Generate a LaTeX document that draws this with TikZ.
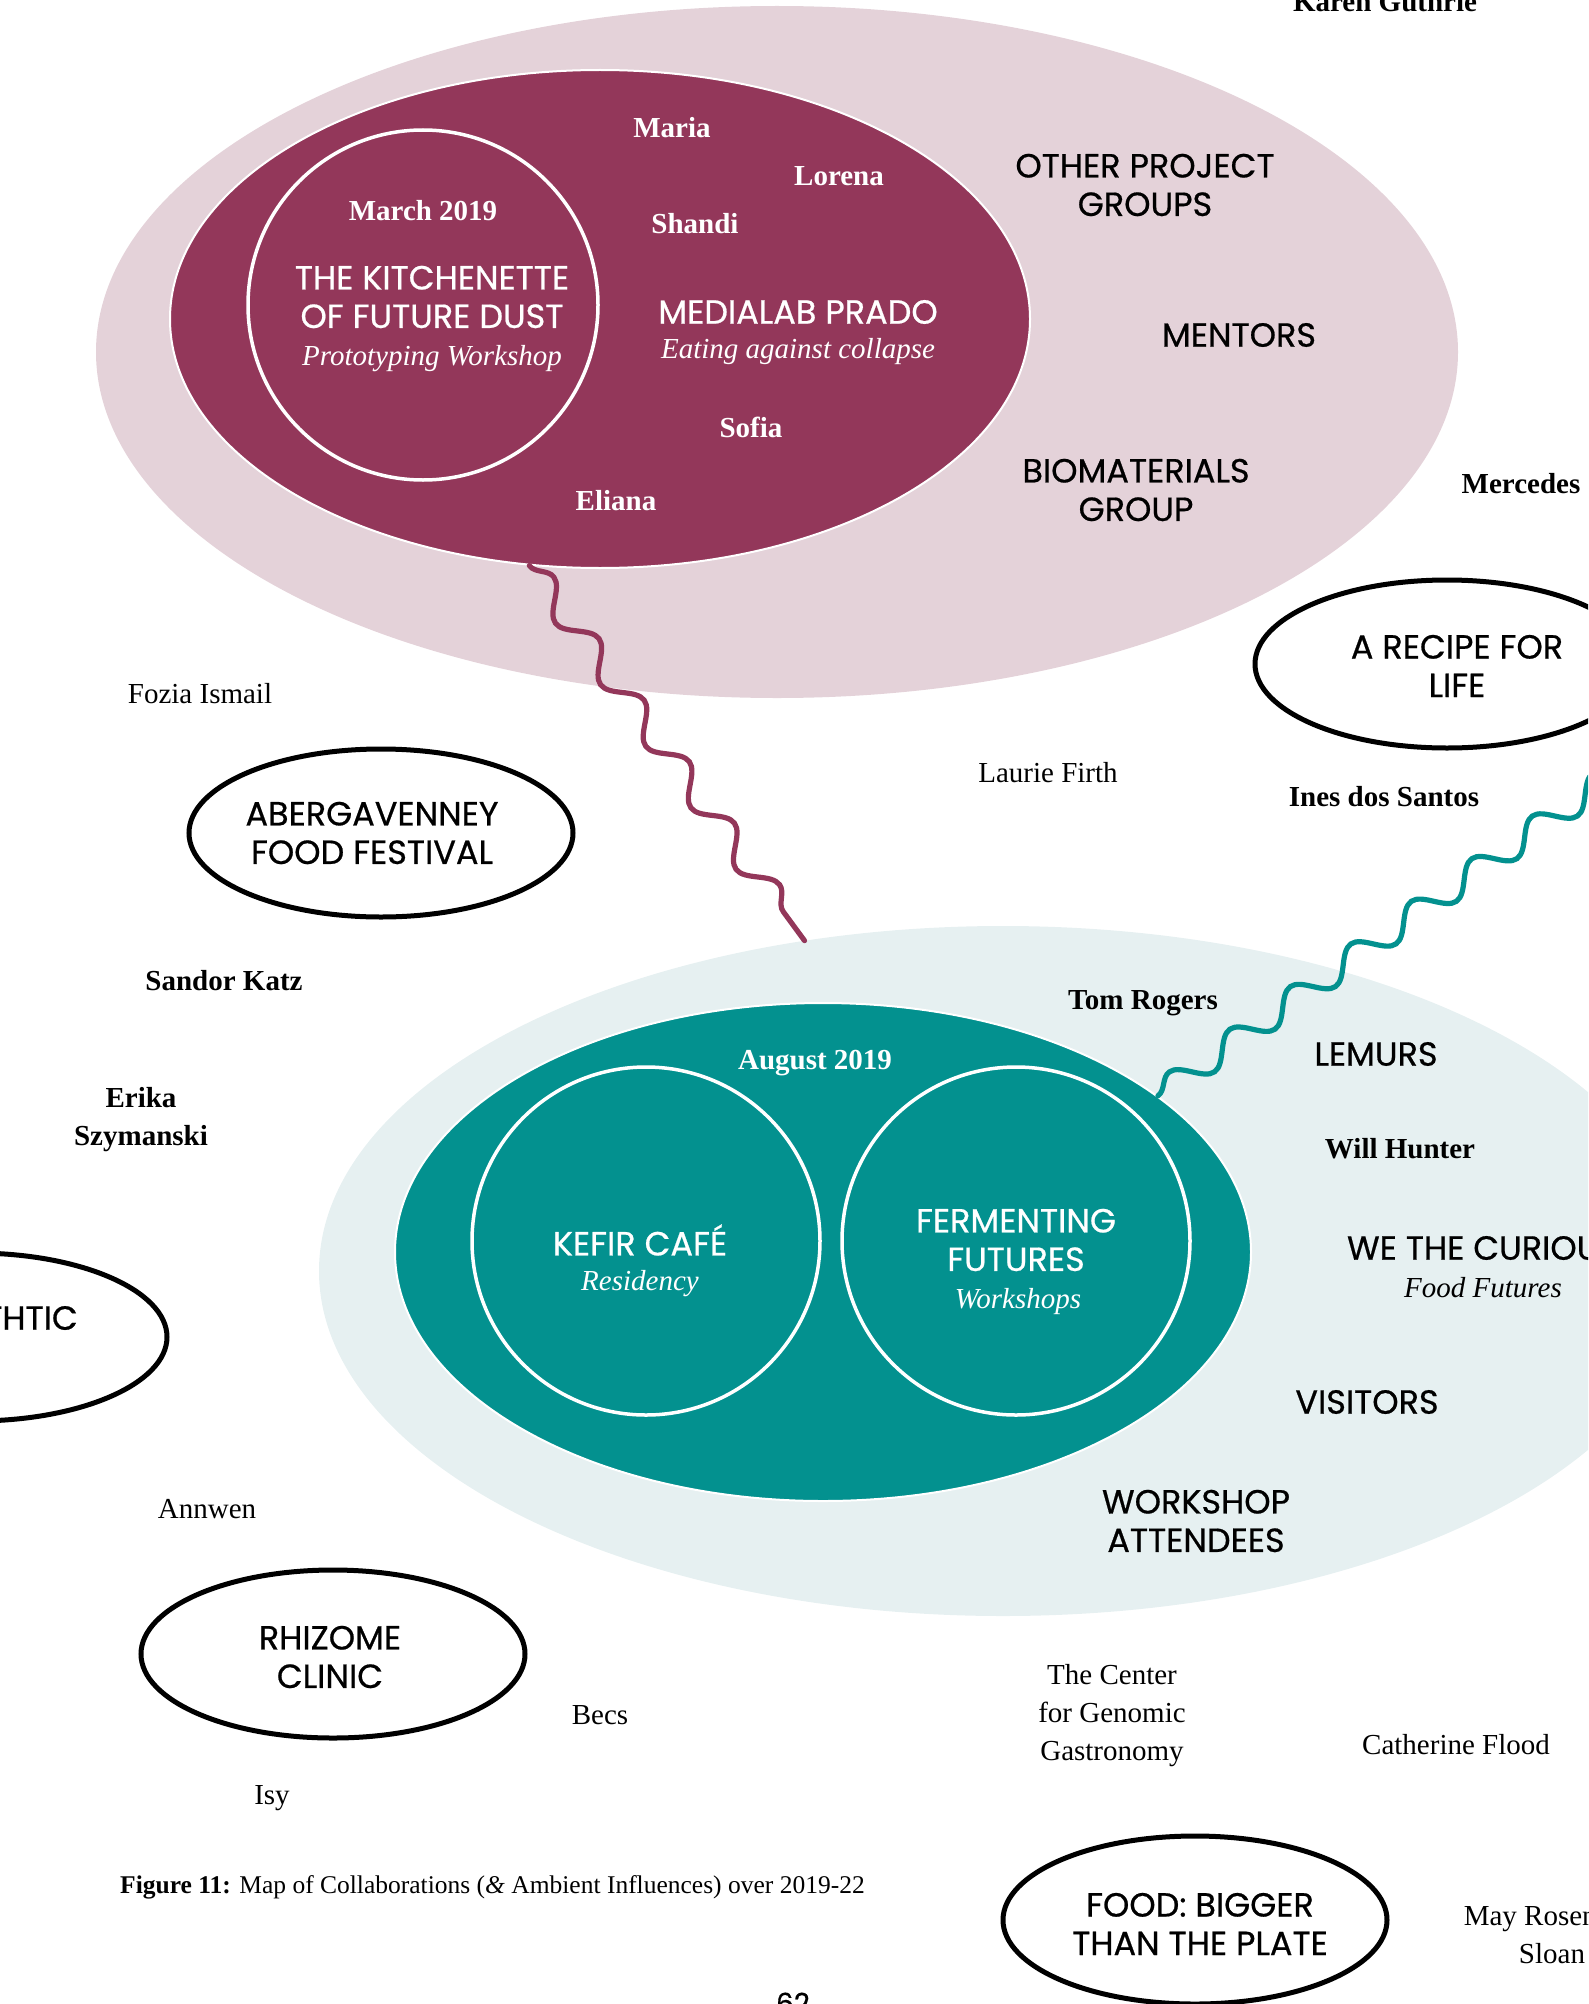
\documentclass[tikz,border=0pt]{standalone}
\usepackage{fontspec}
\setmainfont{Liberation Serif}
\newfontfamily\futura{Poppins}[FakeBold=0.6]
\usetikzlibrary{shapes.geometric,decorations.pathmorphing}
\definecolor{plum}{HTML}{93375A}
\definecolor{plumlight}{HTML}{E4D2D9}
\definecolor{tealdark}{HTML}{03918F}
\definecolor{teallight}{HTML}{E6F0F1}
\begin{document}
\begin{tikzpicture}[x=1pt,y=-1pt,
  sanslab/.style={font=\futura\fontsize{33.5}{38.5}\selectfont, align=center, inner sep=0pt},
  nm/.style={font=\fontsize{29}{38}\selectfont, align=center, inner sep=0pt},
  bnm/.style={font=\fontsize{29}{38}\selectfont\bfseries, align=center, inner sep=0pt},
  subt/.style={font=\fontsize{29}{38}\selectfont\itshape, align=center, inner sep=0pt},
  wht/.style={text=white},
  proj/.style={ellipse, draw=black, line width=5pt, minimum width=384pt, minimum height=168pt, inner sep=0pt},
  ring/.style={circle, draw=white, line width=3.5pt, inner sep=0pt},
  wave/.style={line width=5.2pt, line cap=round, decorate, decoration={snake, amplitude=13pt}}
]
\useasboundingbox (0,0) rectangle (1588,2004);
\clip (0,0) rectangle (1588,2004);

% top group
\node[ellipse, fill=plumlight, minimum width=1362pt, minimum height=692pt, inner sep=0pt] (groupsA) at (777,352) {};
\node[ellipse, fill=plum, draw=white, line width=2pt, minimum width=860pt, minimum height=498pt, inner sep=0pt] (mlp) at (600,319) {};
\node[ring, minimum size=350pt] (kfd) at (423,305) {};

% bottom group
\node[ellipse, fill=teallight, minimum width=1368pt, minimum height=690pt, inner sep=0pt] (groupsB) at (1003,1271) {};
\node[ellipse, fill=tealdark, draw=white, line width=2pt, minimum width=856pt, minimum height=498pt, inner sep=0pt] (ffut) at (823,1252) {};
\node[ring, minimum size=348pt] (kefir) at (646,1241) {};
\node[ring, minimum size=348pt] (fermf) at (1016,1241) {};

% outlined project ellipses
\node[proj] (recipe) at (1447,664) {};
\node[proj] (aberg) at (381,833) {};
\node[proj] (aesth) at (-25,1337) {};
\node[proj] (rhizome) at (333,1654) {};
\node[proj] (bigger) at (1195,1920) {};
\coordinate (recipeend) at (1640,756);

% wavy connectors
\draw[wave, plum, decoration={segment length=76.3pt}] (mlp.254.5) -- (groupsB.121.9);
\draw[wave, tealdark, decoration={segment length=74pt}] (ffut.25.7) -- (recipeend);

% texts in top group
\node[bnm, wht] (march) at (423,211) {March 2019};
\node[sanslab, wht] (kfdt) at (432,297) {THE KITCHENETTE\\OF FUTURE DUST};
\node[subt, wht] (kfds) at (432,359) {Prototyping Workshop};
\node[bnm, wht] (maria) at (672,128) {Maria};
\node[bnm, wht] (lorena) at (839,176) {Lorena};
\node[bnm, wht] (shandi) at (695,224) {Shandi};
\node[sanslab, wht] (mlpt) at (798,312) {MEDIALAB PRADO};
\node[subt, wht] (mlps) at (798,352) {Eating against collapse};
\node[bnm, wht] (sofia) at (751,427) {Sofia};
\node[bnm, wht] (eliana) at (616,501) {Eliana};
\node[sanslab] (opg) at (1145,185) {OTHER PROJECT\\GROUPS};
\node[sanslab] (mentors) at (1239,335) {MENTORS};
\node[sanslab] (bio) at (1136,490) {BIOMATERIALS\\GROUP};

% texts in bottom group
\node[bnm, wht] (aug) at (815,1063) {August 2019};
\node[sanslab, wht] (kefirt) at (640,1240) {KEFIR CAFÉ};
\node[subt, wht] (kefirs) at (640,1284) {Residency};
\node[sanslab, wht] (fft) at (1016,1240) {FERMENTING\\FUTURES};
\node[subt, wht] (ffs) at (1018,1302) {Workshops};
\node[sanslab] (lemurs) at (1376,1054) {LEMURS};
\node[sanslab] (wtc) at (1483,1248) {WE THE CURIOUS};
\node[subt] (wtcs) at (1483,1288) {Food Futures};
\node[sanslab] (visitors) at (1367,1402) {VISITORS};
\node[sanslab] (wsa) at (1196,1521) {WORKSHOP\\ATTENDEES};

% project ellipse labels
\node[sanslab] (recipet) at (1457,666) {A RECIPE FOR\\LIFE};
\node[sanslab] (abergt) at (372,833) {ABERGAVENNEY\\FOOD FESTIVAL};
\node[sanslab, anchor=east] (aestht) at (78,1318) {THTIC};
\node[sanslab] (rhizomet) at (330,1657) {RHIZOME\\CLINIC};
\node[sanslab] (biggert) at (1200,1924) {FOOD: BIGGER\\THAN THE PLATE};

% people
\node[bnm] (karen) at (1385,2) {Karen Guthrie};
\node[bnm] (mercedes) at (1521,484) {Mercedes};
\node[nm] (fozia) at (200,694) {Fozia Ismail};
\node[nm] (laurie) at (1048,773) {Laurie Firth};
\node[bnm] (ines) at (1384,797) {Ines dos Santos};
\node[bnm] (sandor) at (224,981) {Sandor Katz};
\node[bnm] (tom) at (1143,1003) {Tom Rogers};
\node[bnm] (will) at (1400,1149) {Will Hunter};
\node[bnm] (erika) at (141,1120) {Erika\\Szymanski};
\node[nm] (annwen) at (207,1509) {Annwen};
\node[nm] (becs) at (600,1715) {Becs};
\node[nm] (isy) at (272,1798) {Isy};
\node[nm] (cgg) at (1112,1716) {The Center\\for Genomic\\Gastronomy};
\node[nm] (catherine) at (1456,1745) {Catherine Flood};
\node[nm] (may) at (1552,1935) {May Rosenthal\\Sloan};

% caption and page number
\node[nm, anchor=west, font=\fontsize{25.5}{30}\selectfont] (caption) at (120,1887) {\textbf{Figure 11:} Map of Collaborations (\textit{\&} Ambient Influences) over 2019-22};
\node[sanslab, font=\futura\fontsize{28}{32}\selectfont] (page) at (793,2003) {62};
\end{tikzpicture}
\end{document}
